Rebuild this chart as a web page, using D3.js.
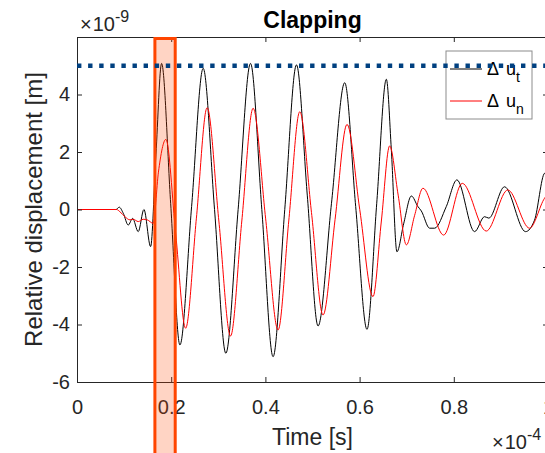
<!DOCTYPE html>
<html>
<head>
<meta charset="utf-8">
<script src="https://cdn.jsdelivr.net/npm/d3@7"></script>
<style>
  html, body { margin: 0; padding: 0; background: #fff; }
  svg { display: block; }
  text { font-family: "Liberation Sans", Arial, Helvetica, sans-serif; fill: #262626; }
</style>
</head>
<body>
<svg id="chart" width="545" height="453"></svg>
<script>
// Time in units of 1e-4 s, displacement in units of 1e-9 m
const timeT = [0, 0.0827, 0.0897, 0.0982, 0.1088, 0.1181, 0.1300, 0.1421, 0.1563, 0.1676, 0.1796,
  0.1989, 0.2185, 0.2433, 0.2679, 0.2920, 0.3160, 0.3421, 0.3684, 0.3924, 0.4163, 0.4411, 0.4660,
  0.4889, 0.5118, 0.5402, 0.5684, 0.5917, 0.6157, 0.6363, 0.6568, 0.6674, 0.6793, 0.6935, 0.7099,
  0.7239, 0.7310, 0.7487, 0.7593, 0.7840, 0.8066, 0.8441, 0.8653, 0.8744, 0.9077, 0.9523, 0.9714,
  0.9926, 1.0];
const deltaUt = [0, 0, 0.08, -0.13, -0.54, -0.31, -0.77, 0.0, -1.29, 1.9, 5.08,
  0.2, -4.71, 0.1, 4.91, 0.0, -5.0, 0.0, 5.08, 0.0, -5.12, 0.0, 5.03,
  0.5, -4.05, 0.2, 4.41, 0.1, -4.17, 0.2, 4.53, 2.07, -1.47, -0.5, 0.47,
  0.1, -0.05, -0.65, -0.65, 0.1, 1.03, -0.77, -0.25, -0.3, 0.79, -0.77, -0.37,
  1.26, 1.3];

const timeN = [0, 0.0841, 0.0912, 0.1018, 0.1124, 0.1194, 0.1300, 0.1406, 0.1491, 0.1618, 0.1729,
  0.1888, 0.2096, 0.2306, 0.2535, 0.2763, 0.3012, 0.3260, 0.3499, 0.3739, 0.4004, 0.4269, 0.4496,
  0.4730, 0.4978, 0.5224, 0.5479, 0.5733, 0.6003, 0.6284, 0.6462, 0.6638, 0.6819, 0.6993, 0.7169,
  0.7345, 0.7784, 0.8180, 0.8689, 0.9147, 0.9608, 0.9926, 1.0];
const deltaUn = [0, 0, -0.08, -0.25, -0.36, -0.34, -0.42, -0.34, -0.36, -0.48, 1.3,
  2.44, -0.85, -4.13, -0.3, 3.54, -0.4, -4.4, -0.4, 3.52, -0.3, -4.19, -0.4,
  3.4, -0.1, -3.67, -0.35, 2.96, 0.0, -3.03, -0.4, 2.21, 0.5, -1.23, -0.2,
  0.74, -0.89, 0.91, -0.75, 0.68, -0.65, 0.39, 0.55];

const xTicks = [0, 0.2, 0.4, 0.6, 0.8, 1];
const xTickLabels = ["0", "0.2", "0.4", "0.6", "0.8", "1"];
const yTicks = [-6, -4, -2, 0, 2, 4];
const yTickLabels = ["-6", "-4", "-2", "0", "2", "4"];

const threshold = 5;                 // dotted reference level
const clapWindow = [0.1654, 0.2085]; // highlighted time window

const seriesNames = ["t", "n"];
const seriesColors = ["#000000", "#ff0000"];

const svg = d3.select("#chart");
const mLeft = 77, mRight = 548, mTop = 37, mBottom = 382;

const x = d3.scaleLinear().domain([0, 1]).range([mLeft, mRight]);
const y = d3.scaleLinear().domain([-6, 6]).range([mBottom, mTop]);

const axisColor = "#262626";

// Curves (drawn first so the axes box sits over them)
const plot = svg.append("g");
plot.append("defs").append("clipPath").attr("id", "clip")
  .append("rect").attr("x", mLeft).attr("y", mTop).attr("width", mRight - mLeft).attr("height", mBottom - mTop);

const line = d3.line().x(d => x(d[0])).y(d => y(d[1])).curve(d3.curveMonotoneX);
const tData = timeT.map((t, i) => [t, deltaUt[i]]);
const nData = timeN.map((t, i) => [t, deltaUn[i]]);

plot.append("path").datum(tData).attr("d", line).attr("fill", "none")
  .attr("stroke", seriesColors[0]).attr("stroke-width", 1).attr("clip-path", "url(#clip)");
plot.append("path").datum(nData).attr("d", line).attr("fill", "none")
  .attr("stroke", seriesColors[1]).attr("stroke-width", 1).attr("clip-path", "url(#clip)");

// Axes (box, inward ticks)
const gx = svg.append("g").attr("transform", `translate(0,${mBottom})`)
  .call(d3.axisBottom(x).tickValues(xTicks).tickFormat((d, i) => xTickLabels[i])
    .tickSizeInner(-5).tickSizeOuter(0).tickPadding(17.5));
const gxTop = svg.append("g").attr("transform", `translate(0,${mTop})`)
  .call(d3.axisTop(x).tickValues(xTicks).tickFormat("").tickSizeInner(-5).tickSizeOuter(0));
const gy = svg.append("g").attr("transform", `translate(${mLeft},0)`)
  .call(d3.axisLeft(y).tickValues(yTicks).tickFormat((d, i) => yTickLabels[i])
    .tickSizeInner(-5).tickSizeOuter(0).tickPadding(7));
const gyRight = svg.append("g").attr("transform", `translate(${mRight},0)`)
  .call(d3.axisRight(y).tickValues(yTicks).tickFormat("").tickSizeInner(-5).tickSizeOuter(0));

[gx, gxTop, gy, gyRight].forEach(g => {
  g.selectAll("path.domain").attr("stroke", axisColor).attr("stroke-width", 1);
  g.selectAll(".tick line").attr("stroke", axisColor).attr("stroke-width", 1);
  g.selectAll(".tick text").attr("fill", axisColor).style("font-size", "20px")
    .style("font-family", '"Liberation Sans", Arial, sans-serif');
});

// Title and labels
svg.append("text").attr("x", (mLeft + mRight) / 2).attr("y", 28).attr("text-anchor", "middle")
  .style("font-size", "23px").style("font-weight", "bold").style("fill", "#000").text("Clapping");

svg.append("text").attr("x", (mLeft + mRight) / 2).attr("y", 445).attr("text-anchor", "middle")
  .style("font-size", "23px").text("Time [s]");

svg.append("text").attr("transform", `translate(42,${(mTop + mBottom) / 2}) rotate(-90)`)
  .attr("text-anchor", "middle").style("font-size", "24px").text("Relative displacement [m]");

// Exponent labels
const expY = svg.append("text").attr("x", 80).attr("y", 31).style("font-size", "20px");
expY.append("tspan").style("font-weight", "300").text("\u00d7");
expY.append("tspan").attr("dx", 1).text("10");
expY.append("tspan").attr("dy", -9).style("font-size", "16px").text("-9");

const expX = svg.append("text").attr("x", 492).attr("y", 449).style("font-size", "20px");
expX.append("tspan").text("\u00d7");
expX.append("tspan").attr("dx", 1).text("10");
expX.append("tspan").attr("dy", -9).style("font-size", "16px").text("-4");

// Legend
const lg = svg.append("g");
lg.append("rect").attr("x", 446).attr("y", 51).attr("width", 86).attr("height", 68)
  .attr("fill", "#fff").attr("stroke", "#8c8c8c").attr("stroke-width", 1);
const legendRows = [69, 101];
seriesNames.forEach((name, i) => {
  lg.append("line").attr("x1", 450).attr("x2", 482).attr("y1", legendRows[i]).attr("y2", legendRows[i])
    .attr("stroke", seriesColors[i]).attr("stroke-width", 1);
  const t = lg.append("text").attr("x", 487).attr("y", legendRows[i] + 6).style("font-size", "18px").style("fill", "#000");
  t.append("tspan").text("\u0394");
  t.append("tspan").attr("dx", 7).text("u");
  t.append("tspan").attr("dy", 7).style("font-size", "14px").text(name);
});

// Highlighted time window
svg.append("rect")
  .attr("x", x(clapWindow[0])).attr("y", mTop + 1.5)
  .attr("width", x(clapWindow[1]) - x(clapWindow[0])).attr("height", 453 - mTop + 10)
  .attr("fill", "#ff4500").attr("fill-opacity", 0.23)
  .attr("stroke", "#ff4500").attr("stroke-width", 3);

// Threshold level
svg.append("line").attr("x1", mLeft).attr("x2", mRight).attr("y1", y(threshold)).attr("y2", y(threshold))
  .attr("stroke", "#004080").attr("stroke-width", 4.4).attr("stroke-dasharray", "4.4 6.7");
</script>
</body>
</html>
